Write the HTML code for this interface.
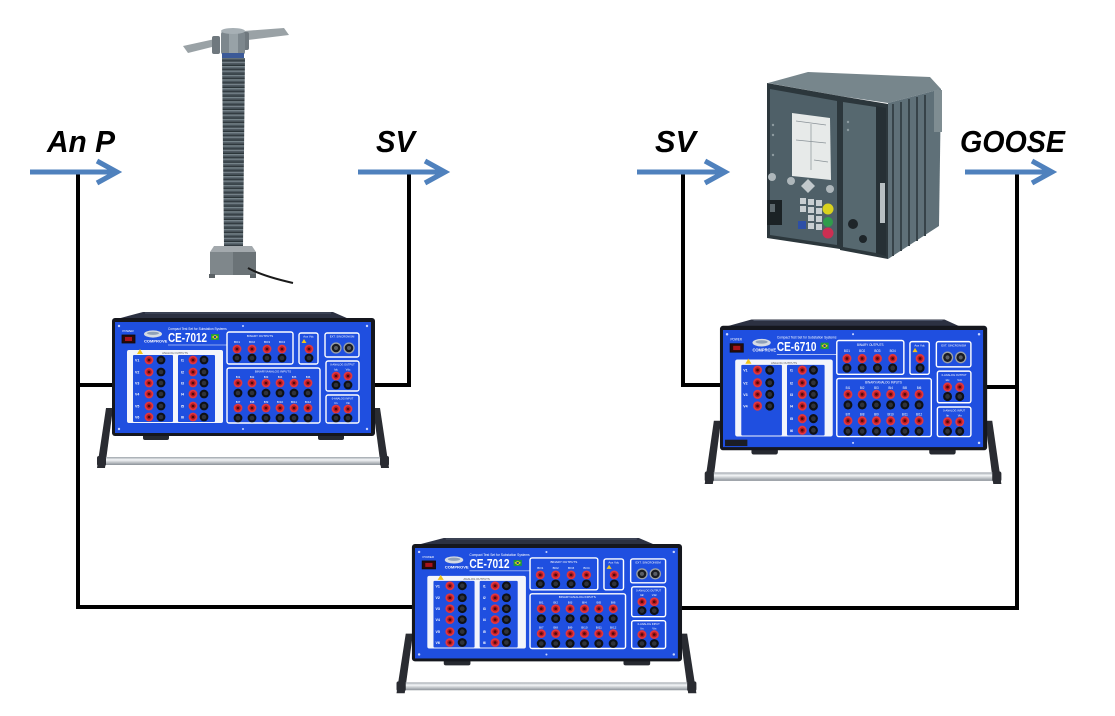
<!DOCTYPE html>
<html><head><meta charset="utf-8"><style>
html,body{margin:0;padding:0;background:#fff;}
svg{display:block;}
</style></head><body>
<svg width="1115" height="716" viewBox="0 0 1115 716" xmlns="http://www.w3.org/2000/svg" font-family="Liberation Sans, sans-serif">
<defs>
<pattern id="sheds" x="0" y="0" width="10" height="4.4" patternUnits="userSpaceOnUse">
<rect width="10" height="4.4" fill="#4b565d"/>
<rect y="0" width="10" height="1.4" fill="#76838a"/>
<rect y="3.2" width="10" height="1.2" fill="#2c353a"/>
</pattern>
<linearGradient id="bar" x1="0" y1="0" x2="0" y2="1">
<stop offset="0" stop-color="#9ea4ab"/><stop offset="0.35" stop-color="#f4f6f8"/><stop offset="1" stop-color="#8b9198"/>
</linearGradient>
<g id="jr"><circle r="4.4" fill="#e3363d"/><circle r="2.7" fill="#b31b22"/><circle r="1.3" fill="#4e0a0d"/></g>
<g id="jb"><circle r="4.4" fill="#0f1115"/><circle r="2.3" fill="#30333a"/></g>
<g id="conn"><circle r="5.6" fill="#9aa0a8"/><circle r="4.3" fill="#1a1c21"/><circle r="2" fill="#5a5e66"/></g>
<g id="dev">
<polygon points="-9,86 -2,86 -10,146 -18,146" fill="#2a2c32"/>
<polygon points="258,86 265,86 274,146 266,146" fill="#2a2c32"/>
<rect x="-16" y="135" width="290" height="8" rx="3" fill="url(#bar)"/>
<rect x="-18" y="134" width="9" height="10" rx="2" fill="#2a2c32"/>
<rect x="265" y="134" width="9" height="10" rx="2" fill="#2a2c32"/>
<rect x="28" y="112" width="26" height="6" rx="2" fill="#262930"/>
<rect x="203" y="112" width="26" height="6" rx="2" fill="#262930"/>
<polygon points="28,-10 218,-10 234,-3 2,-3" fill="#2c3142"/>
<line x1="30" y1="-9" x2="216" y2="-9" stroke="#4a5266" stroke-width="1"/>
<rect x="-3" y="-4" width="263" height="118" rx="3" fill="#15171e"/>
<rect x="0" y="0" width="256" height="111" fill="#1f4fe0"/>
<g fill="#c8d4ff"><circle cx="4" cy="4" r="1.2"/><circle cx="252" cy="4" r="1.2"/><circle cx="4" cy="107" r="1.2"/><circle cx="252" cy="107" r="1.2"/><circle cx="128" cy="4" r="1"/><circle cx="128" cy="107" r="1"/></g>
<text x="13" y="10" font-size="3" fill="#fff" text-anchor="middle">POWER</text>
<rect x="7" y="13" width="13" height="8" fill="#2a0a0a" stroke="#0c0c0c" stroke-width="0.8"/>
<rect x="10" y="15" width="7" height="4" fill="#a8141c"/>
<ellipse cx="38" cy="12" rx="9" ry="3.6" fill="#d5dbe3"/>
<ellipse cx="38" cy="11.3" rx="6" ry="1.6" fill="#8fa0b8"/>
<text x="29" y="20.5" font-size="4" font-weight="bold" fill="#fff">COMPROVE</text>
<text x="53" y="8" font-size="3.2" fill="#fff">Compact Test Set for Substation Systems</text>
<rect x="96" y="12" width="8" height="6" fill="#1e9b3e"/>
<polygon points="100,12.8 103.2,15 100,17.2 96.8,15" fill="#f2d31b"/>
<circle cx="100" cy="15" r="1.2" fill="#23409a"/>
<line x1="53" y1="23" x2="112" y2="23" stroke="#fff" stroke-width="0.6"/>
<rect x="12" y="28" width="96" height="73" rx="2" fill="#f3f5fb"/>
<polygon points="25,27 28,32 22,32" fill="#f2c418"/>
<text x="60" y="32" font-size="2.8" fill="#555" text-anchor="middle">ANALOG OUTPUTS</text>
<rect x="18" y="33" width="40" height="67" rx="1" fill="#1f4fe0"/>
<rect x="63" y="33" width="37" height="67" rx="1" fill="#1f4fe0"/>
<g font-size="3.5" fill="#fff" font-weight="bold">
<text x="20" y="39.5">V1</text><text x="20" y="51.5">V2</text><text x="20" y="62.5">V3</text><text x="20" y="73.5">V4</text>
<text x="66" y="39.5">I1</text><text x="66" y="51.5">I2</text><text x="66" y="62.5">I3</text><text x="66" y="73.5">I4</text><text x="66" y="85.5">I5</text><text x="66" y="96.5">I6</text>
</g>
<use href="#jr" x="34" y="38"/><use href="#jb" x="46" y="38"/>
<use href="#jr" x="34" y="50"/><use href="#jb" x="46" y="50"/>
<use href="#jr" x="34" y="61"/><use href="#jb" x="46" y="61"/>
<use href="#jr" x="34" y="72"/><use href="#jb" x="46" y="72"/>
<use href="#jr" x="78" y="38"/><use href="#jb" x="89" y="38"/>
<use href="#jr" x="78" y="50"/><use href="#jb" x="89" y="50"/>
<use href="#jr" x="78" y="61"/><use href="#jb" x="89" y="61"/>
<use href="#jr" x="78" y="72"/><use href="#jb" x="89" y="72"/>
<use href="#jr" x="78" y="84"/><use href="#jb" x="89" y="84"/>
<use href="#jr" x="78" y="95"/><use href="#jb" x="89" y="95"/>
<rect x="112" y="10" width="66" height="32" rx="2" fill="none" stroke="#fff" stroke-width="1.4"/>
<text x="145" y="15" font-size="3" fill="#fff" text-anchor="middle">BINARY OUTPUTS</text>
<g font-size="3" fill="#fff" text-anchor="middle"><text x="122" y="21">BO1</text><text x="137" y="21">BO2</text><text x="152" y="21">BO3</text><text x="167" y="21">BO4</text></g>
<use href="#jr" x="122" y="27"/><use href="#jr" x="137" y="27"/><use href="#jr" x="152" y="27"/><use href="#jr" x="167" y="27"/>
<use href="#jb" x="122" y="36"/><use href="#jb" x="137" y="36"/><use href="#jb" x="152" y="36"/><use href="#jb" x="167" y="36"/>
<rect x="184" y="11" width="19" height="31" rx="2" fill="none" stroke="#fff" stroke-width="1.4"/>
<text x="193.5" y="15.5" font-size="2.8" fill="#fff" text-anchor="middle">Aux Vdc</text>
<polygon points="189,17 191.5,21 186.5,21" fill="#f2c418"/>
<use href="#jr" x="194" y="27"/><use href="#jb" x="194" y="36"/>
<rect x="210" y="11" width="34" height="24" rx="2" fill="none" stroke="#fff" stroke-width="1.4"/>
<text x="227" y="15.5" font-size="2.8" fill="#fff" text-anchor="middle">EXT. SINCRONISM</text>
<use href="#conn" x="221" y="26"/><use href="#conn" x="234" y="26"/>
<rect x="112" y="46" width="93" height="55" rx="2" fill="none" stroke="#fff" stroke-width="1.4"/>
<text x="158" y="50.5" font-size="3" fill="#fff" text-anchor="middle">BINARY/ANALOG INPUTS</text>
<g font-size="3" fill="#fff" text-anchor="middle">
<text x="123" y="56">BI1</text><text x="137" y="56">BI2</text><text x="151" y="56">BI3</text><text x="165" y="56">BI4</text><text x="179" y="56">BI5</text><text x="193" y="56">BI6</text>
<text x="123" y="81">BI7</text><text x="137" y="81">BI8</text><text x="151" y="81">BI9</text><text x="165" y="81">BI10</text><text x="179" y="81">BI11</text><text x="193" y="81">BI12</text>
</g>
<use href="#jr" x="123" y="61"/><use href="#jr" x="137" y="61"/><use href="#jr" x="151" y="61"/><use href="#jr" x="165" y="61"/><use href="#jr" x="179" y="61"/><use href="#jr" x="193" y="61"/>
<use href="#jb" x="123" y="71"/><use href="#jb" x="137" y="71"/><use href="#jb" x="151" y="71"/><use href="#jb" x="165" y="71"/><use href="#jb" x="179" y="71"/><use href="#jb" x="193" y="71"/>
<use href="#jr" x="123" y="86"/><use href="#jr" x="137" y="86"/><use href="#jr" x="151" y="86"/><use href="#jr" x="165" y="86"/><use href="#jr" x="179" y="86"/><use href="#jr" x="193" y="86"/>
<use href="#jb" x="123" y="96"/><use href="#jb" x="137" y="96"/><use href="#jb" x="151" y="96"/><use href="#jb" x="165" y="96"/><use href="#jb" x="179" y="96"/><use href="#jb" x="193" y="96"/>
<rect x="211" y="39" width="33" height="30" rx="2" fill="none" stroke="#fff" stroke-width="1.4"/>
<text x="227.5" y="43.5" font-size="2.6" fill="#fff" text-anchor="middle">0-ANALOG OUTPUT</text>
<g font-size="2.8" fill="#fff" text-anchor="middle"><text x="221" y="48.5">Idc</text><text x="233" y="48.5">Vdc</text></g>
<use href="#jr" x="221" y="54"/><use href="#jr" x="233" y="54"/>
<use href="#jb" x="221" y="63"/><use href="#jb" x="233" y="63"/>
<rect x="211" y="73" width="33" height="28" rx="2" fill="none" stroke="#fff" stroke-width="1.4"/>
<text x="227.5" y="77.5" font-size="2.6" fill="#fff" text-anchor="middle">0-ANALOG INPUT</text>
<g font-size="2.8" fill="#fff" text-anchor="middle"><text x="221" y="82">Iin</text><text x="233" y="82">Vin</text></g>
<use href="#jr" x="221" y="87"/><use href="#jr" x="233" y="87"/>
<use href="#jb" x="221" y="96"/><use href="#jb" x="233" y="96"/>
</g>
<g id="r56">
<use href="#jr" x="34" y="84"/><use href="#jb" x="46" y="84"/>
<use href="#jr" x="34" y="95"/><use href="#jb" x="46" y="95"/>
</g>
</defs>

<g stroke="#000" stroke-width="4" fill="none" stroke-linecap="square">
<polyline points="78,174 78,607 413,607"/>
<line x1="78" y1="385" x2="113" y2="385"/>
<polyline points="409,174 409,385 376,385"/>
<polyline points="683,174 683,385 720,385"/>
<polyline points="1017,174 1017,608 680,608"/>
<line x1="988" y1="387" x2="1017" y2="387"/>
</g>

<g stroke="#4f81bd" stroke-width="5" fill="none" stroke-linejoin="miter">
<line x1="30" y1="172" x2="116" y2="172"/>
<polyline points="97,161 117,172 97,183"/>
<line x1="358" y1="172" x2="444" y2="172"/>
<polyline points="425,161 445,172 425,183"/>
<line x1="637" y1="172" x2="723" y2="172"/>
<polyline points="705,161 725,172 705,183"/>
<line x1="965" y1="172" x2="1051" y2="172"/>
<polyline points="1032,161 1052,172 1032,183"/>
</g>

<g font-family="Liberation Sans, sans-serif" font-weight="bold" font-style="italic" font-size="31" fill="#000">
<text x="47" y="152" textLength="68" lengthAdjust="spacingAndGlyphs">An P</text>
<text x="376" y="152" textLength="39" lengthAdjust="spacingAndGlyphs">SV</text>
<text x="655" y="152" textLength="41" lengthAdjust="spacingAndGlyphs">SV</text>
<text x="960" y="152" textLength="105" lengthAdjust="spacingAndGlyphs">GOOSE</text>
</g>

<g>
<polygon points="183,46 215,39 220,45 188,53" fill="#9aa2a6"/>
<polygon points="244,31 284,28 289,35 248,40" fill="#9aa2a6"/>
<rect x="212" y="36" width="8" height="18" rx="2" fill="#6f787e"/>
<rect x="242" y="32" width="7" height="18" rx="2" fill="#6f787e"/>
<rect x="221" y="31" width="24" height="24" rx="3" fill="#7d878d"/>
<rect x="229" y="31" width="9" height="24" fill="#98a2a7"/>
<ellipse cx="233" cy="31" rx="12" ry="3" fill="#a7b0b5"/>
<rect x="222" y="53" width="22" height="5" fill="#3c5a98"/>
<polygon points="222,58 245,58 243,246 224,246" fill="url(#sheds)"/>
<polygon points="214,246 252,246 256,252 210,252" fill="#a3a9ad"/>
<rect x="210" y="252" width="46" height="23" fill="#7f878b"/>
<rect x="233" y="252" width="23" height="23" fill="#6b7377"/>
<rect x="209" y="274" width="6" height="4" fill="#5b6266"/>
<rect x="250" y="274" width="6" height="4" fill="#5b6266"/>
<path d="M248,268 Q262,276 293,283" stroke="#1a1a1a" stroke-width="2" fill="none"/>
</g>

<g>
<polygon points="768,83 808,72 930,77 941,89 888,103 840,96" fill="#77868c"/>
<polygon points="888,103 941,89 939,226 888,259" fill="#5f7078"/>
<g stroke="#374349" stroke-width="2">
<line x1="893" y1="104" x2="893" y2="256"/><line x1="901" y1="102" x2="901" y2="251"/>
<line x1="909" y1="99" x2="909" y2="246"/><line x1="917" y1="97" x2="917" y2="241"/>
<line x1="925" y1="95" x2="925" y2="236"/>
</g>
<rect x="934" y="90" width="8" height="42" fill="#7f8d92"/>
<polygon points="767,83 840,96 840,249 767,238" fill="#2c373c"/>
<polygon points="770,89 837,101 837,245 770,235" fill="#4f6068"/>
<polygon points="840,96 888,104 888,259 840,250" fill="#2c373c"/>
<polygon points="843,102 876,107 876,253 843,247" fill="#56686f"/>
<polygon points="876,106 886,108 886,256 876,253" fill="#263035"/>
<rect x="880" y="183" width="5" height="40" fill="#b8c0c3"/>
<polygon points="792,113 830,118 831,180 792,176" fill="#e7eae9"/>
<g stroke="#8a9297" stroke-width="0.7">
<line x1="796" y1="121" x2="826" y2="125"/><line x1="811" y1="124" x2="811" y2="170"/>
<line x1="796" y1="140" x2="826" y2="143"/><line x1="814" y1="160" x2="828" y2="162"/>
</g>
<g fill="#aeb7bb"><circle cx="772" cy="177" r="4"/><circle cx="791" cy="181" r="4"/><circle cx="830" cy="189" r="4"/></g>
<polygon points="808,179 815,186 808,193 801,186" fill="#c2c9cc"/>
<g fill="#c9cfd2">
<rect x="800" y="198" width="6" height="6"/><rect x="808" y="199" width="6" height="6"/><rect x="816" y="200" width="6" height="6"/>
<rect x="800" y="206" width="6" height="6"/><rect x="808" y="207" width="6" height="6"/><rect x="816" y="208" width="6" height="6"/>
<rect x="808" y="215" width="6" height="6"/><rect x="816" y="216" width="6" height="6"/>
<rect x="808" y="223" width="6" height="6"/><rect x="816" y="224" width="6" height="6"/>
</g>
<circle cx="828" cy="209" r="5.5" fill="#d9d21f"/>
<circle cx="828" cy="222" r="5" fill="#2f9c4b"/>
<circle cx="828" cy="233" r="5.5" fill="#cc2f52"/>
<rect x="798" y="221" width="8" height="8" fill="#2d4fa6"/>
<rect x="767" y="200" width="15" height="25" fill="#1b2225"/>
<rect x="770" y="204" width="5" height="8" fill="#5d686d"/>
<circle cx="853" cy="224" r="5" fill="#1e2529"/>
<circle cx="863" cy="239" r="4" fill="#1e2529"/>
<g fill="#8d9ba0"><circle cx="773" cy="125" r="1.2"/><circle cx="773" cy="135" r="1.2"/><circle cx="773" cy="155" r="1.2"/><circle cx="848" cy="122" r="1.2"/><circle cx="848" cy="130" r="1.2"/></g>
</g>

<g transform="translate(115,322)">
<use href="#dev"/><use href="#r56"/>
<g font-size="3.5" fill="#fff" font-weight="bold"><text x="20" y="85.5">V5</text><text x="20" y="96.5">V6</text></g>
<text x="53" y="20" font-size="12.5" font-weight="bold" fill="#fff" textLength="39" lengthAdjust="spacingAndGlyphs">CE-7012</text>
</g>
<g transform="translate(723,330) scale(1.016,1.055)">
<use href="#dev"/>
<rect x="2" y="104" width="22" height="6" fill="#1b1d25"/>
<text x="53" y="20" font-size="12.5" font-weight="bold" fill="#fff" textLength="39" lengthAdjust="spacingAndGlyphs">CE-6710</text>
</g>
<g transform="translate(415,548) scale(1.027,0.995)">
<use href="#dev"/><use href="#r56"/>
<g font-size="3.5" fill="#fff" font-weight="bold"><text x="20" y="85.5">V5</text><text x="20" y="96.5">V6</text></g>
<text x="53" y="20" font-size="12.5" font-weight="bold" fill="#fff" textLength="39" lengthAdjust="spacingAndGlyphs">CE-7012</text>
</g>
</svg>
</body></html>
